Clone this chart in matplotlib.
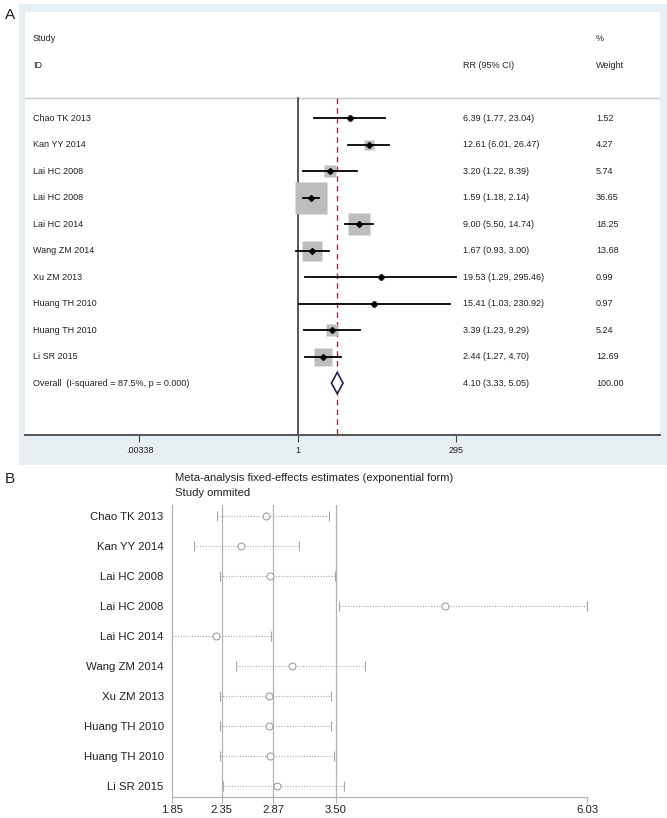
import numpy as np
import matplotlib
matplotlib.use('Agg')
import matplotlib.pyplot as plt
from matplotlib.patches import Rectangle, Polygon
import matplotlib.transforms as mtransforms

plt.rcParams['font.family'] = ['Liberation Sans', 'DejaVu Sans']

# panel A data (forest plot)
studies = ['Chao TK 2013', 'Kan YY 2014', 'Lai HC 2008', 'Lai HC 2008', 'Lai HC 2014',
           'Wang ZM 2014', 'Xu ZM 2013', 'Huang TH 2010', 'Huang TH 2010', 'Li SR 2015']
rr = [6.39, 12.61, 3.20, 1.59, 9.00, 1.67, 19.53, 15.41, 3.39, 2.44]
rr_low = [1.77, 6.01, 1.22, 1.18, 5.50, 0.93, 1.29, 1.03, 1.23, 1.27]
rr_high = [23.04, 26.47, 8.39, 2.14, 14.74, 3.00, 295.46, 230.92, 9.29, 4.70]
weights = [1.52, 4.27, 5.74, 36.65, 18.25, 13.68, 0.99, 0.97, 5.24, 12.69]
overall = [4.10, 3.33, 5.05]
overall_label = 'Overall  (I-squared = 87.5%, p = 0.000)'
a_ticks = [0.00338, 1, 295]
a_ticklabels = ['.00338', '1', '295']

# panel B data (leave-one-out sensitivity)
omit_est = [2.80, 2.55, 2.84, 4.60, 2.29, 3.06, 2.83, 2.83, 2.84, 2.91]
omit_low = [2.30, 2.07, 2.33, 3.53, 1.85, 2.49, 2.33, 2.33, 2.33, 2.36]
omit_high = [3.43, 3.13, 3.49, 6.03, 2.85, 3.79, 3.455, 3.455, 3.48, 3.58]
b_ticks = [1.85, 2.35, 2.87, 3.50, 6.03]
b_ticklabels = ['1.85', '2.35', '2.87', '3.50', '6.03']

W, H = 667, 818
fig = plt.figure(figsize=(W / 100, H / 100), dpi=100)

def fx(px):
    return px / W

def fy(py):
    return 1 - py / H

# panel A background
fig.patches.append(Rectangle((fx(19), fy(465)), fx(W - 19), (465 - 4) / H,
                             transform=fig.transFigure, facecolor='#e8eff2',
                             edgecolor='none', zorder=-5))

axA = fig.add_axes([fx(25), fy(435), fx(635), (435 - 12) / H])
axA.set_zorder(2)
axA.set_facecolor('white')
axA.set_xscale('log')
axA.set_xlim(np.exp(-9.80), np.exp(13.0))
axA.set_ylim(11.96, -4.0)
for s in ['top', 'right', 'left']:
    axA.spines[s].set_visible(False)
axA.spines['bottom'].set_color('#555555')
axA.spines['bottom'].set_linewidth(1.4)
axA.set_yticks([])
axA.set_xticks(a_ticks)
axA.set_xticklabels(a_ticklabels)
axA.minorticks_off()
axA.tick_params(axis='x', length=5, width=0.8, color='#444444', labelsize=6.5,
                labelcolor='#222222', pad=3)

fs = 6.5
trA = mtransforms.blended_transform_factory(axA.transAxes, axA.transData)
sep_y = -0.755
axA.axhline(sep_y, color='#c8c8c8', lw=1.0)
axA.plot([1, 1], [sep_y, 11.96], color='#2a2a2a', lw=1.1)
axA.plot([overall[0], overall[0]], [sep_y, 11.96], color='#a0303a', lw=1.0,
         ls=(0, (4, 3)))

axA.text(0.0126, -3, 'Study', transform=trA, fontsize=fs, va='center', color='#222222')
axA.text(0.0126, -2, 'ID', transform=trA, fontsize=fs, va='center', color='#222222')
axA.text(0.69, -2, 'RR (95% CI)', transform=trA, fontsize=fs, va='center', color='#222222')
axA.text(0.899, -3, '%', transform=trA, fontsize=fs, va='center', color='#222222')
axA.text(0.899, -2, 'Weight', transform=trA, fontsize=fs, va='center', color='#222222')

ypos = np.arange(len(studies))
wmax = max(weights)
for i in range(len(studies)):
    side = 23.0 * np.sqrt(weights[i] / wmax)
    axA.plot(rr[i], ypos[i], marker='s', ms=side, mfc='#bdbdbd', mec='none', zorder=2)
    axA.plot([rr_low[i], rr_high[i]], [ypos[i], ypos[i]], color='black', lw=1.3, zorder=3)
    axA.plot(rr[i], ypos[i], marker='D', ms=3, color='black', zorder=4)
    axA.text(0.0126, ypos[i], studies[i], transform=trA, fontsize=fs, va='center',
             color='#222222')
    axA.text(0.69, ypos[i], '%.2f (%.2f, %.2f)' % (rr[i], rr_low[i], rr_high[i]),
             transform=trA, fontsize=fs, va='center', color='#222222')
    axA.text(0.899, ypos[i], '%.2f' % weights[i], transform=trA, fontsize=fs,
             va='center', color='#222222')

yo = len(studies)
h = 0.4
dia = Polygon([[overall[1], yo], [overall[0], yo - h], [overall[2], yo], [overall[0], yo + h]],
              closed=True, facecolor='white', edgecolor='#23235a', lw=1.2, zorder=5)
axA.add_patch(dia)
axA.text(0.0126, yo, overall_label, transform=trA, fontsize=fs, va='center', color='#222222')
axA.text(0.69, yo, '%.2f (%.2f, %.2f)' % tuple(overall), transform=trA, fontsize=fs,
         va='center', color='#222222')
axA.text(0.899, yo, '100.00', transform=trA, fontsize=fs, va='center', color='#222222')

fig.text(fx(10), fy(15), 'A', fontsize=11, ha='center', va='center', color='#222222')
fig.text(fx(10), fy(479), 'B', fontsize=11, ha='center', va='center', color='#222222')

# panel B
axB = fig.add_axes([fx(172), fy(797), fx(587 - 172), (797 - 505) / H])
axB.set_xlim(1.85, 6.03)
axB.set_ylim(9.36, -0.37)
for s in ['top', 'right']:
    axB.spines[s].set_visible(False)
for s in ['left', 'bottom']:
    axB.spines[s].set_color('#b4b4b4')
    axB.spines[s].set_linewidth(0.9)
for t in b_ticks[1:4]:
    axB.axvline(t, color='#b4b4b4', lw=0.9, zorder=1)
axB.set_xticks(b_ticks)
axB.set_xticklabels(b_ticklabels)
axB.tick_params(axis='x', length=4, width=0.8, color='#b4b4b4', labelsize=8.1,
                labelcolor='#222222', pad=2)
axB.set_yticks(ypos)
axB.set_yticklabels(studies)
axB.tick_params(axis='y', length=0, labelsize=8.2, labelcolor='#222222', pad=6)

for i in range(len(studies)):
    axB.plot([omit_low[i], omit_high[i]], [ypos[i], ypos[i]], color='#a8a8a8', lw=0.8,
             ls=(0, (1, 1.5)), zorder=2, clip_on=False)
    axB.plot([omit_low[i], omit_high[i]], [ypos[i], ypos[i]], ls='none', marker='|',
             ms=7, mew=0.8, color='#a8a8a8', zorder=2, clip_on=False)
    axB.plot(omit_est[i], ypos[i], marker='o', ms=5, mfc='white', mec='#a0a0a0',
             mew=0.8, zorder=3)

fig.text(fx(175), fy(478), 'Meta-analysis fixed-effects estimates (exponential form)',
         fontsize=8.1, va='center', color='#222222')
fig.text(fx(175), fy(493), 'Study ommited', fontsize=8.1, va='center', color='#222222')

fig.savefig('out.png', dpi=100)
